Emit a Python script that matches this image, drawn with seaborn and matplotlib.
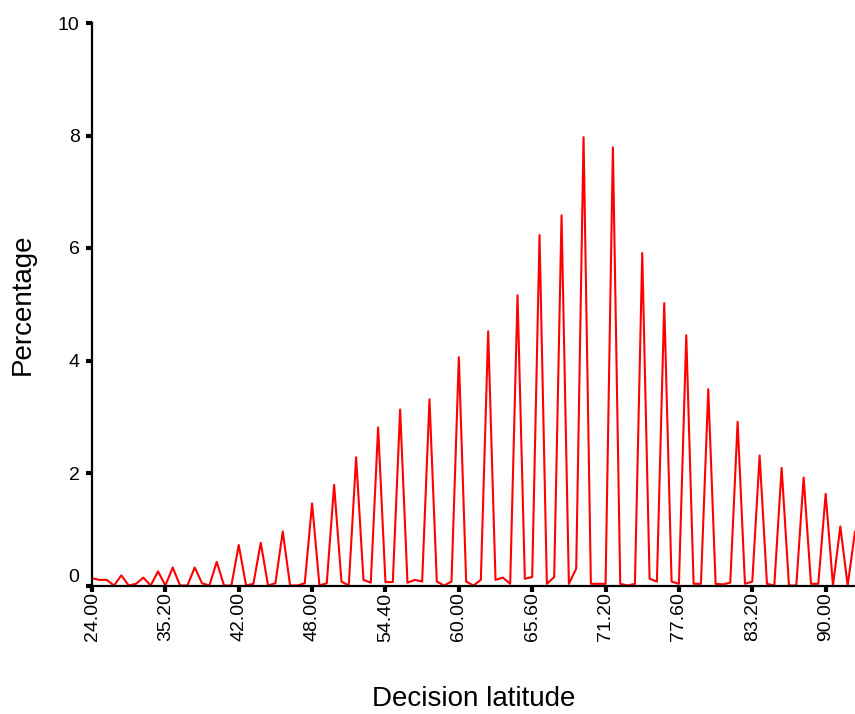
import matplotlib
matplotlib.use("Agg")
import matplotlib.pyplot as plt
import seaborn as sns
import pandas as pd

# Share of responses (%) for each observed decision-latitude score, in score order
percentages = [
    0.13, 0.10, 0.10, 0.00, 0.18, 0.00, 0.03, 0.14, 0.00, 0.25,
    0.00, 0.32, 0.00, 0.00, 0.32, 0.04, 0.00, 0.42, 0.00, 0.00,
    0.72, 0.00, 0.03, 0.76, 0.00, 0.04, 0.96, 0.00, 0.00, 0.04,
    1.46, 0.00, 0.04, 1.79, 0.07, 0.00, 2.28, 0.10, 0.05, 2.81,
    0.06, 0.06, 3.13, 0.05, 0.10, 0.07, 3.31, 0.07, 0.00, 0.07,
    4.06, 0.07, 0.00, 0.10, 4.52, 0.10, 0.14, 0.03, 5.16, 0.12,
    0.15, 6.23, 0.03, 0.15, 6.58, 0.03, 0.30, 7.97, 0.03, 0.03,
    0.03, 7.79, 0.03, 0.00, 0.03, 5.91, 0.12, 0.07, 5.02, 0.07,
    0.03, 4.45, 0.03, 0.03, 3.49, 0.03, 0.02, 0.05, 2.91, 0.03,
    0.07, 2.31, 0.03, 0.00, 2.09, 0.00, 0.00, 1.92, 0.03, 0.03,
    1.63, 0.00, 1.05, 0.00, 0.96,
]

# Every tenth score category carries a label
tick_labels = ["24.00", "35.20", "42.00", "48.00", "54.40", "60.00",
               "65.60", "71.20", "77.60", "83.20", "90.00"]
tick_step = 10

y_ticks = [0, 2, 4, 6, 8, 10]

sns.set_style("white")
plt.rcParams["font.family"] = ["Liberation Sans", "DejaVu Sans"]
plt.rcParams["text.color"] = "black"
plt.rcParams["axes.labelcolor"] = "black"
plt.rcParams["xtick.color"] = "black"
plt.rcParams["ytick.color"] = "black"

df = pd.DataFrame({"category": range(len(percentages)), "pct": percentages})

fig = plt.figure(figsize=(8.55, 7.14), dpi=100)
ax = fig.add_axes([92 / 855, 1 - 585.5 / 714, 1 - 92 / 855, (585.5 - 23) / 714])

sns.lineplot(data=df, x="category", y="pct", ax=ax, color="#ff0000",
             linewidth=1.5, clip_on=False)

ax.set_xlim(0, len(percentages) - 1)
ax.set_ylim(0, 10)

ax.set_xticks(range(0, tick_step * len(tick_labels), tick_step))
ax.set_xticklabels(tick_labels, rotation=90, fontsize=14)
ax.set_yticks(y_ticks)
ax.set_yticklabels([str(v) for v in y_ticks], fontsize=14)
ax.get_yticklabels()[0].set_va("bottom")

ax.tick_params(axis="both", direction="out", length=4, width=3,
               color="black", labelcolor="black", left=True, bottom=True)
ax.tick_params(axis="x", pad=1)
ax.tick_params(axis="y", pad=5)

for side in ["top", "right"]:
    ax.spines[side].set_visible(False)
for side in ["left", "bottom"]:
    ax.spines[side].set_color("black")
    ax.spines[side].set_linewidth(1.6)

ax.set_xlabel("Decision latitude", fontsize=20, color="black", va="baseline")
ax.xaxis.set_label_coords(0.5, -(706 - 585.5) / 562.5)
ax.set_ylabel("Percentage", fontsize=20, labelpad=16, color="black")

fig.savefig("out.png", dpi=100)
